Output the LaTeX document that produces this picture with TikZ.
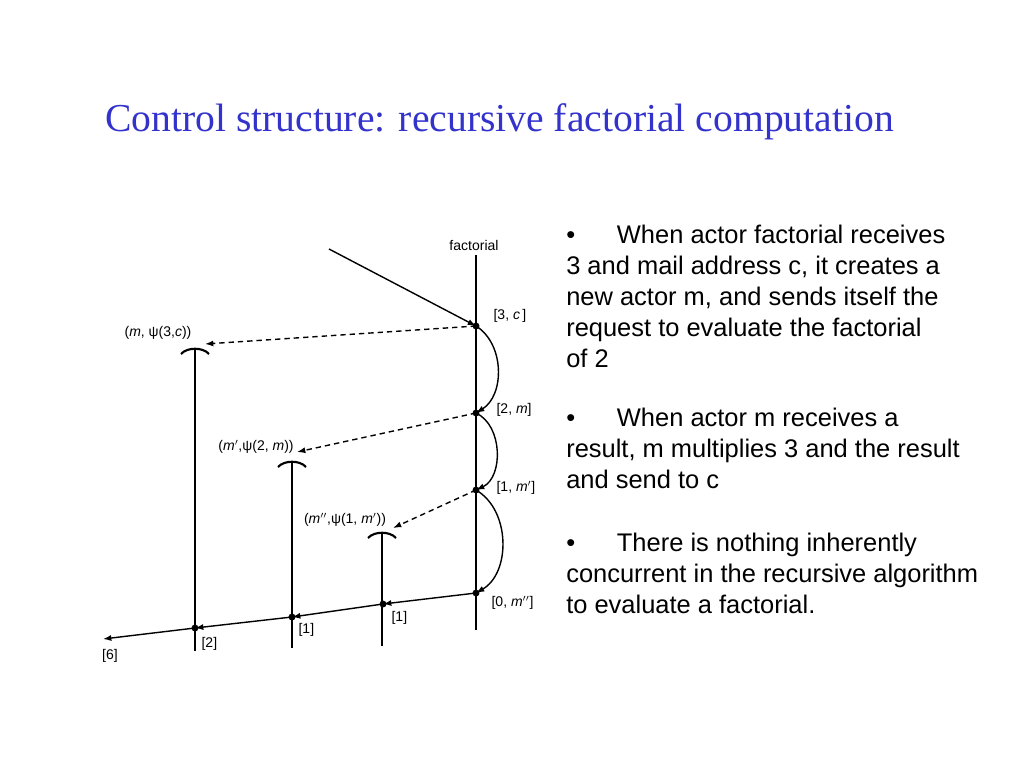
\documentclass[tikz,border=0pt]{standalone}
\usepackage{fontspec}
\setmainfont{Liberation Serif}
\newfontfamily\arialfont{Liberation Sans}
\usetikzlibrary{arrows.meta,positioning}
\definecolor{TitleBlue}{HTML}{3333CC}

\begin{document}
\begin{tikzpicture}[x=0.75pt,y=-0.75pt,
  life/.style={line width=2pt},
  msg/.style={-{Latex[length=2.2mm,width=1.6mm]}, line width=1.05pt},
  req/.style={msg, dash pattern=on 4pt off 3pt},
  lbl/.style={font=\arialfont\fontsize{10.5}{12}\selectfont, inner sep=1pt},
  dot/.style={circle, fill, inner sep=0pt, minimum size=5.2pt},
  para/.style={font=\arialfont\fontsize{19.1}{23.25}\selectfont, align=left, inner sep=0pt}
]
  \useasboundingbox (0,0) rectangle (1024,768);

  % title
  \node[anchor=west, inner sep=0pt, text=TitleBlue, font=\fontsize{29.7}{32}\selectfont] (title) at (105,122)
    {Control structure: recursive factorial computation};

  % factorial actor and its messages
  \draw[life] (476,255) -- (476,630);
  \node[lbl] (fname) at (474,245) {factorial};
  \node[dot] (f3) at (476,326) {};
  \node[dot] (f2) at (476,413) {};
  \node[dot] (f1) at (476,490) {};
  \node[dot] (f0) at (476,593) {};
  \node[lbl, anchor=west] at (492,316) {[3, \textit{c}\,]};
  \node[lbl, anchor=west] at (495,410) {[2, \textit{m}]};
  \node[lbl, anchor=west] at (495,488) {[1, \textit{m}$'$]};
  \node[lbl, anchor=west] at (490,603) {[0, \textit{m}$''$]};

  \coordinate (src) at (329,249);
  \draw[msg] (src) -- (f3.center);
  \draw[msg] (f3.center) to[bend left=58] (f2.center);
  \draw[msg] (f2.center) to[bend left=65] (f1.center);
  \draw[msg] (f1.center) to[bend left=60] (f0.center);

  % the created actors
  \foreach \x/\y/\b in {195/348/651, 292/461/648, 382/532/646}{
    \draw[life] (\x,\y) -- (\x,\b);
    \draw[line width=1.6pt] (\x-14,\y+6) .. controls (\x-8,\y-1) and (\x+8,\y-1) .. (\x+14,\y+6);
  }
  \coordinate (m) at (205,344);
  \coordinate (mp) at (297,452);
  \coordinate (mpp) at (393,528);
  \draw[req] (f3.center) -- (m);
  \draw[req] (f2.center) -- (mp);
  \draw[req] (f1.center) -- (mpp);
  \node[lbl] at (158,333) {(\textit{m}, ψ(3,\textit{c}))};
  \node[lbl] at (256,447) {(\textit{m}$'$,ψ(2, \textit{m}))};
  \node[lbl] at (345,520) {(\textit{m}$''$,ψ(1, \textit{m}$'$))};

  % replies
  \node[dot] (r1) at (383,604) {};
  \node[dot] (r2) at (292,617) {};
  \node[dot] (r3) at (195,628) {};
  \coordinate (out) at (103,639);
  \draw[msg] (f0.center) -- (r1.center);
  \draw[msg] (r1.center) -- (r2.center);
  \draw[msg] (r2.center) -- (r3.center);
  \draw[msg] (r3.center) -- (out);
  \node[lbl, anchor=west] at (390,618) {[1]};
  \node[lbl, anchor=west] at (297,630) {[1]};
  \node[lbl, anchor=west] at (200,644) {[2]};
  \node[lbl] at (110,656) {[6]};

  % notes
  \node[para, anchor=north west] (p1) at (566,225)
    {\makebox[38pt][l]{•}When actor factorial receives\\
     3 and mail address c, it creates a\\
     new actor m, and sends itself the\\
     request to evaluate the factorial\\
     of 2};
  \node[para, below=29.5pt of p1.south west, anchor=north west] (p2)
    {\makebox[38pt][l]{•}When actor m receives a\\
     result, m multiplies 3 and the result\\
     and send to c};
  \node[para, below=33.2pt of p2.south west, anchor=north west] (p3)
    {\makebox[38pt][l]{•}There is nothing inherently\\
     concurrent in the recursive algorithm\\
     to evaluate a factorial.};
\end{tikzpicture}
\end{document}
